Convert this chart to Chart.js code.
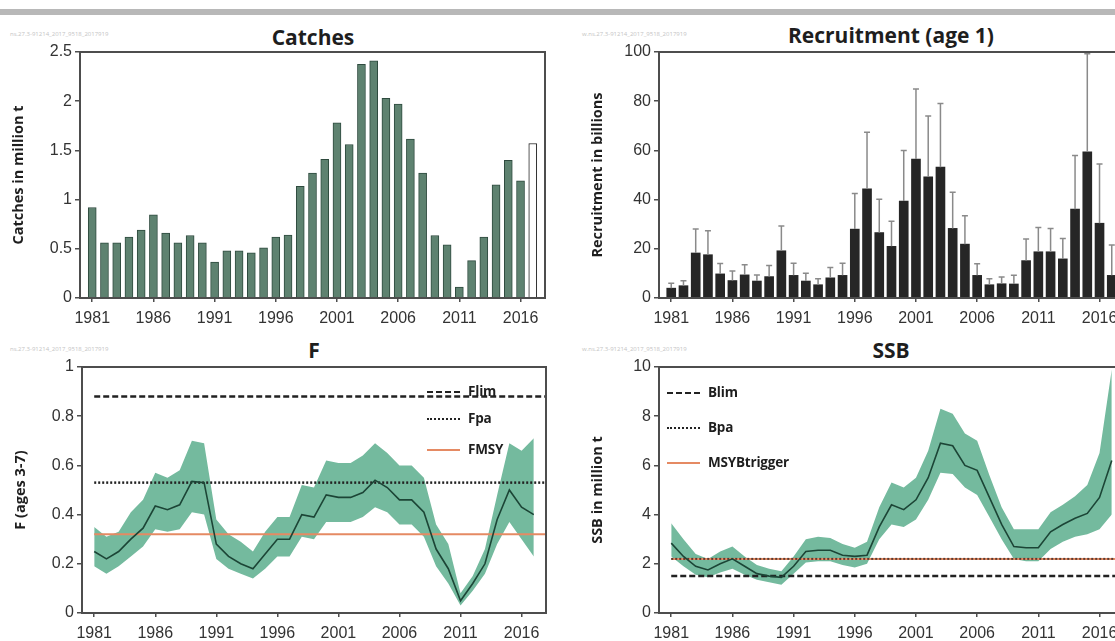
<!DOCTYPE html>
<html>
<head>
<meta charset="utf-8">
<script src="https://cdn.jsdelivr.net/npm/chart.js@4.4.1/dist/chart.umd.min.js"></script>
<style>
  body { margin: 0; width: 1115px; height: 641px; overflow: hidden; background: #fff; position: relative; font-family: "Open Sans", sans-serif; }
  .topbar { position: absolute; left: 0; top: 9px; width: 1115px; height: 6px; background: #b8b8b8; }
  canvas { position: absolute; }
  .title { position: absolute; font-weight: bold; font-size: 21px; color: #1e1e1e; transform: translateX(-50%); white-space: nowrap; line-height: 26px; }
  .stamp { position: absolute; font-size: 6px; color: #c4c4c4; white-space: nowrap; }
  .leg { position: absolute; font: bold 13.5px "Open Sans", sans-serif; color: #1e1e1e; white-space: nowrap; line-height: 16px; letter-spacing: -0.2px; }
  .leg span { display: inline-block; width: 33px; vertical-align: middle; margin-right: 8px; }
</style>
</head>
<body>
<div class="topbar"></div>

<div class="stamp" style="left:10px; top:30px;">ns.27.3-91214_2017_9518_2017919</div>
<div class="stamp" style="left:582px; top:30px;">w.ns.27.3-91214_2017_9518_2017919</div>
<div class="stamp" style="left:10px; top:345px;">ns.27.3-91214_2017_9518_2017919</div>
<div class="stamp" style="left:582px; top:345px;">w.ns.27.3-91214_2017_9518_2017919</div>

<div class="title" style="left:313px; top:24px;">Catches</div>
<div class="title" style="left:891px; top:22px;">Recruitment (age 1)</div>
<div class="title" style="left:314px; top:337px;">F</div>
<div class="title" style="left:891px; top:337px;">SSB</div>

<canvas id="catches" width="560" height="300" style="left:0px; top:30px;"></canvas>
<canvas id="recruitment" width="560" height="300" style="left:575px; top:30px;"></canvas>
<canvas id="fishing" width="560" height="296" style="left:0px; top:345px;"></canvas>
<canvas id="ssb" width="560" height="296" style="left:575px; top:345px;"></canvas>

<!-- legends -->
<div class="leg" style="left:427px; top:383px;"><span style="border-top:2.5px dashed #222;"></span>Flim</div>
<div class="leg" style="left:427px; top:410px;"><span style="border-top:2.5px dotted #222;"></span>Fpa</div>
<div class="leg" style="left:427px; top:441px;"><span style="border-top:2.5px solid #e58a63;"></span>FMSY</div>

<div class="leg" style="left:667px; top:384px;"><span style="border-top:2.5px dashed #222;"></span>Blim</div>
<div class="leg" style="left:667px; top:419px;"><span style="border-top:2.5px dotted #222;"></span>Bpa</div>
<div class="leg" style="left:667px; top:454px;"><span style="border-top:2.5px solid #e58a63;"></span>MSYBtrigger</div>

<script>
// ---- data ----
const years = [1981, 1982, 1983, 1984, 1985, 1986, 1987, 1988, 1989, 1990,
  1991, 1992, 1993, 1994, 1995, 1996, 1997, 1998, 1999, 2000,
  2001, 2002, 2003, 2004, 2005, 2006, 2007, 2008, 2009, 2010,
  2011, 2012, 2013, 2014, 2015, 2016, 2017];
const tickYears = [1981, 1986, 1991, 1996, 2001, 2006, 2011, 2016];

// catches in million t (last year is the white bar)
const catches = [0.92, 0.56, 0.56, 0.62, 0.69, 0.845, 0.66, 0.56, 0.635, 0.56,
  0.365, 0.48, 0.48, 0.46, 0.51, 0.62, 0.64, 1.135, 1.27, 1.41,
  1.78, 1.56, 2.375, 2.41, 2.03, 1.97, 1.615, 1.27, 0.635, 0.54,
  0.11, 0.38, 0.62, 1.15, 1.40, 1.19, 1.57];

// recruitment (age 1) in billions, with upper error bar
const recruitment = [4, 5, 18.3, 17.6, 9.8, 7.1, 9.4, 6.9, 8.7, 19.2,
  9.2, 6.9, 5.4, 8.2, 9.2, 28, 44.4, 26.6, 21, 39.4,
  56.5, 49.3, 53.2, 28.3, 21.9, 9.2, 5.4, 5.8, 5.7, 15.2,
  18.8, 18.8, 15.9, 36.1, 59.4, 30.4, 9.2];
const recruitHigh = [6, 7, 28, 27.3, 14, 11, 13.5, 9.4, 13.2, 29.3,
  14.1, 10.1, 7.8, 12.4, 14.1, 42.5, 67.4, 40.1, 31.2, 60,
  85, 74, 79.1, 43, 33.4, 13.9, 7.8, 8.5, 9.2, 24,
  28.7, 28.3, 24.2, 57.9, 99.3, 54.5, 21.5];

// F (ages 3-7) with confidence band
const fMean = [0.25, 0.22, 0.25, 0.30, 0.345, 0.435, 0.42, 0.44, 0.535, 0.53,
  0.28, 0.23, 0.20, 0.18, 0.24, 0.30, 0.30, 0.40, 0.39, 0.48,
  0.47, 0.47, 0.49, 0.54, 0.51, 0.46, 0.46, 0.41, 0.26, 0.18,
  0.05, 0.12, 0.20, 0.38, 0.50, 0.43, 0.40];
const fHigh = [0.35, 0.31, 0.33, 0.41, 0.46, 0.57, 0.55, 0.58, 0.70, 0.69,
  0.38, 0.32, 0.29, 0.25, 0.33, 0.39, 0.39, 0.52, 0.51, 0.62,
  0.61, 0.61, 0.64, 0.69, 0.65, 0.60, 0.60, 0.55, 0.36, 0.28,
  0.08, 0.15, 0.26, 0.48, 0.69, 0.66, 0.71];
const fLow = [0.19, 0.16, 0.19, 0.23, 0.27, 0.34, 0.33, 0.34, 0.41, 0.40,
  0.22, 0.18, 0.16, 0.14, 0.18, 0.23, 0.23, 0.31, 0.30, 0.37,
  0.37, 0.37, 0.39, 0.43, 0.41, 0.36, 0.36, 0.31, 0.19, 0.12,
  0.03, 0.09, 0.16, 0.28, 0.37, 0.30, 0.23];
const fLim = 0.88;
const fPa = 0.53;
const fMsy = 0.32;

// SSB in million t with confidence band
const ssbMean = [2.84, 2.3, 1.9, 1.75, 2.0, 2.2, 1.9, 1.6, 1.5, 1.45,
  1.9, 2.5, 2.55, 2.55, 2.35, 2.3, 2.35, 3.5, 4.4, 4.2,
  4.6, 5.5, 6.9, 6.8, 6.0, 5.8, 4.7, 3.6, 2.7, 2.65,
  2.65, 3.3, 3.6, 3.85, 4.05, 4.7, 6.2];
const ssbHigh = [3.65, 3.0, 2.4, 2.2, 2.5, 2.7, 2.3, 1.95, 1.8, 1.7,
  2.3, 3.0, 3.1, 3.05, 2.8, 2.65, 2.9, 4.3, 5.3, 5.1,
  5.5, 6.6, 8.3, 8.1, 7.3, 7.0, 5.6, 4.3, 3.4, 3.4,
  3.4, 4.1, 4.4, 4.75, 5.2, 6.5, 9.9];
const ssbLow = [2.3, 1.9, 1.55, 1.45, 1.65, 1.8, 1.55, 1.35, 1.25, 1.15,
  1.6, 2.05, 2.1, 2.1, 1.95, 1.85, 2.0, 3.0, 3.6, 3.5,
  3.8, 4.6, 5.7, 5.65, 5.1, 4.8, 3.9, 3.0, 2.2, 2.1,
  2.1, 2.6, 2.9, 3.1, 3.2, 3.4, 4.0];
const bLim = 1.5;
const bPa = 2.2;
const msyBtrigger = 2.2;

// ---- shared styling ----
const axisColor = "#4d4d4d";
const tickFont = { family: "Liberation Sans Narrow, Arial Narrow, sans-serif", size: 16 };
const bandColor = "#74ba9e";

const toPoints = (vals) => vals.map((v, i) => ({ x: years[i], y: v }));
const flatLine = (v) => [{ x: years[0], y: v }, { x: 2018, y: v }];

// draws the box round the plot area
const frame = {
  id: "frame",
  afterDraw(chart) {
    const a = chart.chartArea;
    const ctx = chart.ctx;
    ctx.save();
    ctx.strokeStyle = axisColor;
    ctx.lineWidth = 2;
    ctx.strokeRect(a.left, a.top, a.right - a.left, a.bottom - a.top);
    ctx.restore();
  },
};

function xAxis(height) {
  return {
    type: "linear",
    min: 1980,
    max: 2018,
    offset: false,
    afterBuildTicks: (axis) => {
      axis.ticks = tickYears.map((v) => ({ value: v }));
    },
    afterFit: (axis) => {
      axis.height = height;
    },
    grid: { drawOnChartArea: false, offset: false, tickLength: 4, color: axisColor, lineWidth: 1.5 },
    border: { color: axisColor, width: 2 },
    ticks: { font: tickFont, color: "#333", padding: 7, maxRotation: 0, autoSkip: false, callback: (v) => String(v) },
  };
}

function yAxis(max, step, label) {
  return {
    min: 0,
    max: max,
    afterFit: (axis) => {
      axis.width = 70;
    },
    grid: { drawOnChartArea: false, tickLength: 5, color: axisColor, lineWidth: 1.5 },
    border: { color: axisColor, width: 2 },
    ticks: { stepSize: step, font: tickFont, color: "#333", padding: 3, callback: (v) => String(Math.round(v * 10) / 10) },
    title: { display: true, text: label, color: "#1e1e1e", font: { family: "Open Sans", weight: "bold", size: 14.5 }, padding: { top: 0, bottom: 2 } },
  };
}

const baseOptions = (padding, scales) => ({
  responsive: false,
  animation: false,
  layout: { padding: padding },
  plugins: { legend: { display: false }, tooltip: { enabled: false } },
  scales: scales,
});

// ---- Catches ----
new Chart(document.getElementById("catches"), {
  type: "bar",
  data: {
    datasets: [
      {
        data: toPoints(catches),
        barThickness: 8,
        backgroundColor: (c) => (c.dataIndex === catches.length - 1 ? "#ffffff" : "#5e8270"),
        borderColor: (c) => (c.dataIndex === catches.length - 1 ? "#222" : "#2e4a3e"),
        borderWidth: 1,
      },
    ],
  },
  options: baseOptions({ left: 10, top: 22, right: 15, bottom: 0 }, {
    x: xAxis(32),
    y: yAxis(2.5, 0.5, "Catches in million t"),
  }),
  plugins: [frame],
});

// ---- Recruitment ----
// upper error whisker with a small cap on each bar
const errorBars = {
  id: "errorBars",
  afterDatasetsDraw(chart) {
    const ctx = chart.ctx;
    const xs = chart.scales.x;
    const ys = chart.scales.y;
    ctx.save();
    ctx.strokeStyle = "#8a8a8a";
    ctx.lineWidth = 1.5;
    recruitHigh.forEach((hi, i) => {
      const x = xs.getPixelForValue(years[i]);
      const y0 = ys.getPixelForValue(recruitment[i]);
      const y1 = ys.getPixelForValue(hi);
      ctx.beginPath();
      ctx.moveTo(x, y0);
      ctx.lineTo(x, y1);
      ctx.moveTo(x - 3, y1);
      ctx.lineTo(x + 3, y1);
      ctx.stroke();
    });
    ctx.restore();
  },
};

new Chart(document.getElementById("recruitment"), {
  type: "bar",
  data: {
    datasets: [
      {
        data: toPoints(recruitment),
        barThickness: 9,
        backgroundColor: "#262626",
        borderWidth: 0,
      },
    ],
  },
  options: baseOptions({ left: 14, top: 22, right: 11, bottom: 0 }, {
    x: xAxis(32),
    y: yAxis(100, 20, "Recruitment in billions"),
  }),
  plugins: [errorBars, frame],
});

// ---- line panels with confidence band and reference points ----
// higher "order" is drawn first, so the band sits underneath everything
function bandDatasets(low, high, mean) {
  return [
    { data: toPoints(low), borderWidth: 0, pointRadius: 0, fill: false, tension: 0, order: 10 },
    { data: toPoints(high), borderWidth: 0, pointRadius: 0, fill: "-1", backgroundColor: bandColor, tension: 0, order: 9 },
    { data: toPoints(mean), borderColor: "#1c4536", borderWidth: 1.6, pointRadius: 0, fill: false, tension: 0, order: 1 },
  ];
}

function refLine(value, color, dash, width, order) {
  return { data: flatLine(value), borderColor: color, borderDash: dash, borderWidth: width, pointRadius: 0, fill: false, order: order };
}

new Chart(document.getElementById("fishing"), {
  type: "line",
  data: {
    datasets: [
      ...bandDatasets(fLow, fHigh, fMean),
      refLine(fMsy, "#e58a63", [], 2, 4),
      refLine(fPa, "#222", [2, 2], 2.5, 3),
      refLine(fLim, "#222", [6, 3], 2.5, 2),
    ],
  },
  options: baseOptions({ left: 12, top: 22, right: 14, bottom: 0 }, {
    x: xAxis(28),
    y: yAxis(1, 0.2, "F (ages 3-7)"),
  }),
  plugins: [frame],
});

new Chart(document.getElementById("ssb"), {
  type: "line",
  data: {
    datasets: [
      ...bandDatasets(ssbLow, ssbHigh, ssbMean),
      refLine(msyBtrigger, "#e58a63", [], 2, 4),
      refLine(bPa, "#5a3a30", [2, 2], 2, 3),
      refLine(bLim, "#222", [6, 3], 2.5, 2),
    ],
  },
  options: baseOptions({ left: 14, top: 22, right: 11, bottom: 0 }, {
    x: xAxis(28),
    y: yAxis(10, 2, "SSB in million t"),
  }),
  plugins: [frame],
});
</script>
</body>
</html>
